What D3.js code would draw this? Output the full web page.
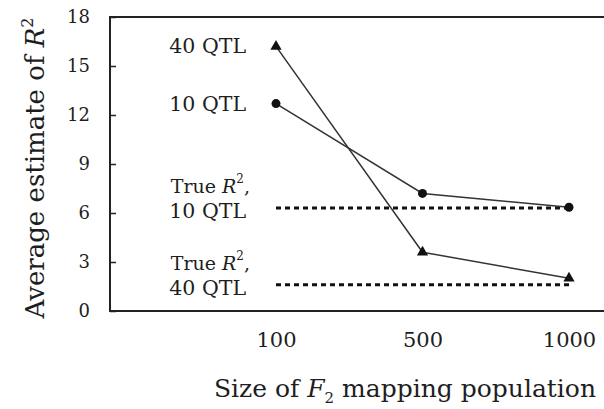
<!DOCTYPE html>
<html>
<head>
<meta charset="utf-8">
<script src="https://cdn.jsdelivr.net/npm/d3@7"></script>
<style>
  html, body { margin: 0; padding: 0; background: #fff; }
  svg { display: block; }
  text { font-family: "DejaVu Serif", "Liberation Serif", serif; fill: #1e1e1e; }
</style>
</head>
<body>
<svg id="chart" width="604" height="409"></svg>
<script>
// F2 population sizes (x categories)
const sizes = ["100", "500", "1000"];
// Average estimated R^2 per population size
const qtl10 = [12.7, 7.2, 6.35];
const qtl40 = [16.2, 3.6, 2.0];
// True R^2 reference levels
const trueR2 = [
  { label: "10 QTL", value: 6.3 },
  { label: "40 QTL", value: 1.6 }
];
// Y tick values
const yTicks = [0, 3, 6, 9, 12, 15, 18];

const svg = d3.select("#chart");
const plotLeft = 110, plotTop = 17, plotBottom = 311, plotRight = 606;

const x = d3.scalePoint().domain(sizes).range([276, 569]);
const y = d3.scaleLinear().domain([0, 18]).range([plotBottom, plotTop]);

// frame: top, left, bottom (open on the right)
svg.append("path")
  .attr("d", `M${plotRight},${plotTop}H${plotLeft}V${plotBottom}H${plotRight}`)
  .attr("stroke", "#222").attr("stroke-width", 2).attr("fill", "none");

// y axis with inward ticks
const yAxis = svg.append("g")
  .attr("transform", `translate(${plotLeft},0)`)
  .call(d3.axisLeft(y).tickValues(yTicks).tickSize(-6).tickSizeOuter(0).tickPadding(20));
yAxis.select(".domain").remove();
yAxis.selectAll(".tick line").attr("stroke", "#222").attr("stroke-width", 1.5);
yAxis.selectAll(".tick text")
  .style("font-family", "'DejaVu Serif', serif")
  .style("font-size", "18px").attr("fill", "#1e1e1e");

// x axis labels only
const xAxis = svg.append("g")
  .attr("transform", `translate(0,${plotBottom})`)
  .call(d3.axisBottom(x).tickSize(0).tickPadding(21));
xAxis.select(".domain").remove();
xAxis.selectAll(".tick text")
  .style("font-family", "'DejaVu Serif', serif")
  .style("font-size", "21px").attr("fill", "#1e1e1e");

// true R^2 dashed reference lines
svg.selectAll("line.true")
  .data(trueR2)
  .join("line")
  .attr("class", "true")
  .attr("x1", x(sizes[0])).attr("x2", x(sizes[sizes.length - 1]))
  .attr("y1", d => y(d.value)).attr("y2", d => y(d.value))
  .attr("stroke", "#111").attr("stroke-width", 3)
  .attr("stroke-dasharray", "5,4");

// series lines
const line = d3.line().x((d, i) => x(sizes[i])).y(d => y(d));
[qtl10, qtl40].forEach(s => {
  svg.append("path").attr("d", line(s))
    .attr("fill", "none").attr("stroke", "#333").attr("stroke-width", 1.5);
});

// markers
svg.selectAll("circle.m10")
  .data(qtl10).join("circle")
  .attr("cx", (d, i) => x(sizes[i])).attr("cy", d => y(d))
  .attr("r", 4.5).attr("fill", "#111");
const tri = d3.symbol().type(d3.symbolTriangle).size(55);
svg.selectAll("path.m40")
  .data(qtl40).join("path")
  .attr("transform", (d, i) => `translate(${x(sizes[i])},${y(d)})`)
  .attr("d", tri).attr("fill", "#111");

// series labels beside the first points
const labX = 246;
svg.append("text").attr("x", labX).attr("y", y(qtl40[0]) + 7)
  .attr("text-anchor", "end").style("font-size", "20.5px").text("40 QTL");
svg.append("text").attr("x", labX).attr("y", y(qtl10[0]) + 7)
  .attr("text-anchor", "end").style("font-size", "20.5px").text("10 QTL");

// true R^2 labels
trueR2.forEach(d => {
  const t1 = svg.append("text").attr("x", labX + 4).attr("y", y(d.value) - 15)
    .attr("text-anchor", "end").style("font-size", "19px");
  t1.append("tspan").text("True ");
  t1.append("tspan").style("font-style", "italic").text("R");
  t1.append("tspan").attr("dy", -10).style("font-size", "12px").text("2");
  t1.append("tspan").attr("dy", 10).text(",");
  svg.append("text").attr("x", labX).attr("y", y(d.value) + 10)
    .attr("text-anchor", "end").style("font-size", "20.5px").text(d.label);
});

// axis titles
const xt = svg.append("text").attr("x", 405).attr("y", 397)
  .attr("text-anchor", "middle").style("font-size", "25px");
xt.append("tspan").text("Size of ");
xt.append("tspan").style("font-style", "italic").text("F");
xt.append("tspan").attr("dy", 6).style("font-size", "15px").text("2");
xt.append("tspan").attr("dy", -6).text(" mapping population");

const yt = svg.append("text")
  .attr("transform", "translate(44,168) rotate(-90)")
  .attr("text-anchor", "middle").style("font-size", "26px");
yt.append("tspan").text("Average estimate of ");
yt.append("tspan").style("font-style", "italic").text("R");
yt.append("tspan").attr("dy", -11).style("font-size", "16px").text("2");
</script>
</body>
</html>
